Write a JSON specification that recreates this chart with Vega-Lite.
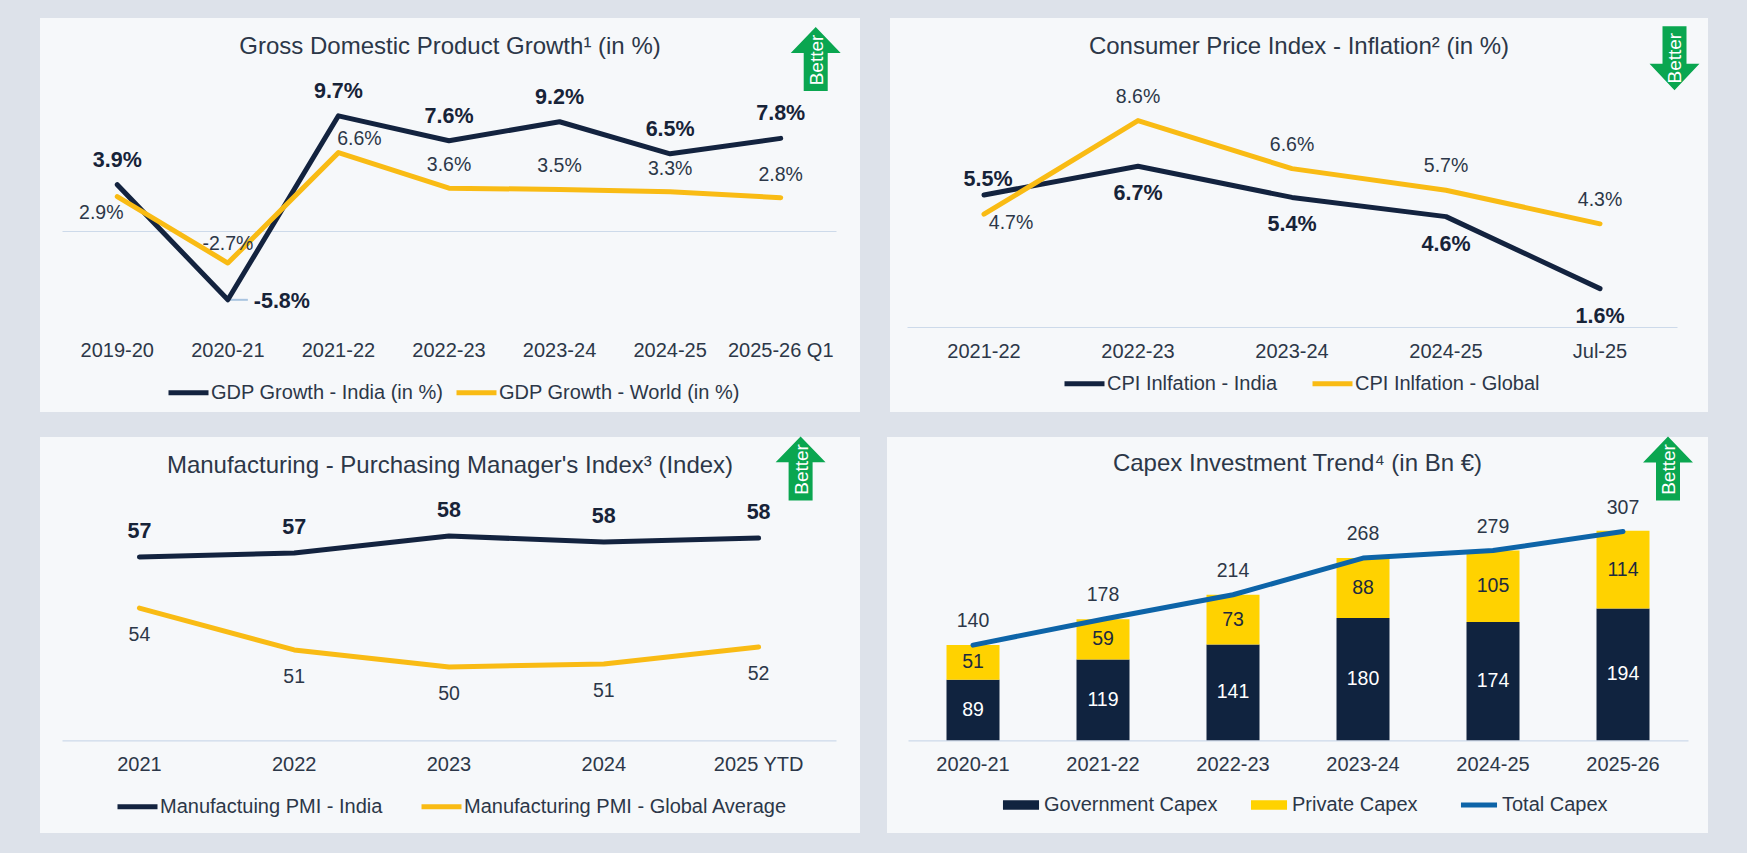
{
"$schema":"https://vega.github.io/schema/vega-lite/v6.json",
"background":"#dde2ea",
"padding":{"left":40,"top":18,"right":39,"bottom":21},
"config":{"view":{"fill":"#f6f8fa","stroke":null},
"title":{"font":"Liberation Sans","fontSize":24,"fontWeight":"normal","color":"#2c3748","anchor":"middle","baseline":"alphabetic"},
"axis":{"labelFont":"Liberation Sans","labelFontSize":20,"labelColor":"#2c3748","domainColor":"#cddaea","domainWidth":1.2,"ticks":false,"grid":false,"title":null,"labelAngle":0},
"text":{"font":"Liberation Sans","baseline":"middle","align":"center"},
"legend":{"labelFont":"Liberation Sans","labelFontSize":20,"labelColor":"#2c3748","title":null,"orient":"none","direction":"horizontal","symbolType":"stroke","symbolSize":1600,"symbolStrokeWidth":5,"labelOffset":0,"padding":0,"labelLimit":500}},
"resolve":{"scale":{"color":"independent"},"legend":{"color":"independent"}},
"vconcat":[
{"resolve":{"scale":{"color":"independent"},"legend":{"color":"independent"}},"hconcat":[
{"width":820,"height":394,"title":{"text":"Gross Domestic Product Growth¹ (in %)","offset":-40.5},
"data":{"values":[
{"year":"2019-20","series":"GDP Growth - India (in %)","value":3.9},{"year":"2020-21","series":"GDP Growth - India (in %)","value":-5.8},{"year":"2021-22","series":"GDP Growth - India (in %)","value":9.7},{"year":"2022-23","series":"GDP Growth - India (in %)","value":7.6},{"year":"2023-24","series":"GDP Growth - India (in %)","value":9.2},{"year":"2024-25","series":"GDP Growth - India (in %)","value":6.5},{"year":"2025-26 Q1","series":"GDP Growth - India (in %)","value":7.8},
{"year":"2019-20","series":"GDP Growth - World (in %)","value":2.9},{"year":"2020-21","series":"GDP Growth - World (in %)","value":-2.7},{"year":"2021-22","series":"GDP Growth - World (in %)","value":6.6},{"year":"2022-23","series":"GDP Growth - World (in %)","value":3.6},{"year":"2023-24","series":"GDP Growth - World (in %)","value":3.5},{"year":"2024-25","series":"GDP Growth - World (in %)","value":3.3},{"year":"2025-26 Q1","series":"GDP Growth - World (in %)","value":2.8}]},
"transform":[{"calculate":"datum.value+'%'","as":"label"}],
"encoding":{"x":{"field":"year","type":"nominal","sort":null,"scale":{"type":"band","domain":["2019-20","2020-21","2021-22","2022-23","2023-24","2024-25","2025-26 Q1"],"range":[22,796],"padding":0},"axis":{"offset":-181,"labelPadding":109}},
"y":{"field":"value","type":"quantitative","scale":{"domain":[-15.25,17.94],"nice":false,"zero":false},"axis":null}},
"layer":[
{"mark":{"type":"rule","color":"#a9c4e0","strokeWidth":2,"x2Offset":20},"transform":[{"filter":"datum.value===-5.8"}],"encoding":{"x2":{"field":"year"}}},
{"mark":{"type":"line","strokeWidth":5,"strokeCap":"round","strokeJoin":"round"},"encoding":{"color":{"field":"series","type":"nominal","scale":{"domain":["GDP Growth - India (in %)","GDP Growth - World (in %)"],"range":["#13233f","#f9bb14"]},"legend":{"legendX":126,"legendY":352,"columnPadding":2}}}},
{"mark":{"type":"text","fontWeight":"bold","fontSize":21.5,"color":"#172338","yOffset":-24},"transform":[{"filter":"datum.series==='GDP Growth - India (in %)' && datum.value>0"}],"encoding":{"text":{"field":"label"}}},
{"mark":{"type":"text","fontWeight":"bold","fontSize":21.5,"color":"#172338","xOffset":54,"yOffset":2},"transform":[{"filter":"datum.value===-5.8"}],"encoding":{"text":{"field":"label"}}},
{"mark":{"type":"text","fontSize":19.5,"color":"#2c3748","yOffset":-23},"transform":[{"filter":"datum.series==='GDP Growth - World (in %)' && datum.value>3 && datum.value<6"}],"encoding":{"text":{"field":"label"}}},
{"mark":{"type":"text","fontSize":19.5,"color":"#2c3748","yOffset":-23},"transform":[{"filter":"datum.value===2.8"}],"encoding":{"text":{"field":"label"}}},
{"mark":{"type":"text","fontSize":19.5,"color":"#2c3748","xOffset":-16,"yOffset":16},"transform":[{"filter":"datum.value===2.9"}],"encoding":{"text":{"field":"label"}}},
{"mark":{"type":"text","fontSize":19.5,"color":"#2c3748","yOffset":-19},"transform":[{"filter":"datum.value===-2.7"}],"encoding":{"text":{"field":"label"}}},
{"mark":{"type":"text","fontSize":19.5,"color":"#2c3748","xOffset":21,"yOffset":-14},"transform":[{"filter":"datum.value===6.6"}],"encoding":{"text":{"field":"label"}}},
{"data":{"values":[{"year":"2025-26 Q1","value":14.49,"arrow":"Better"}]},"mark":{"type":"point","filled":true,"opacity":1,"color":"#0aa650","size":4096,"xOffset":35,"shape":"M0,-1L0.78,-0.19L0.375,-0.19L0.375,1L-0.375,1L-0.375,-0.19L-0.78,-0.19Z"}},
{"data":{"values":[{"year":"2025-26 Q1","value":14.49,"arrow":"Better"}]},"mark":{"type":"text","color":"#ffffff","fontSize":19,"angle":270,"xOffset":36,"yOffset":1},"encoding":{"text":{"field":"arrow"}}}
]},
{"width":818,"height":394,"title":{"text":"Consumer Price Index - Inflation² (in %)","offset":-40.5},
"data":{"values":[
{"year":"2021-22","series":"CPI Inlfation - India","value":5.5},{"year":"2022-23","series":"CPI Inlfation - India","value":6.7},{"year":"2023-24","series":"CPI Inlfation - India","value":5.4},{"year":"2024-25","series":"CPI Inlfation - India","value":4.6},{"year":"Jul-25","series":"CPI Inlfation - India","value":1.6},
{"year":"2021-22","series":"CPI Inlfation - Global","value":4.7},{"year":"2022-23","series":"CPI Inlfation - Global","value":8.6},{"year":"2023-24","series":"CPI Inlfation - Global","value":6.6},{"year":"2024-25","series":"CPI Inlfation - Global","value":5.7},{"year":"Jul-25","series":"CPI Inlfation - Global","value":4.3}]},
"transform":[{"calculate":"datum.value+'%'","as":"label"}],
"encoding":{"x":{"field":"year","type":"nominal","sort":null,"scale":{"type":"band","domain":["2021-22","2022-23","2023-24","2024-25","Jul-25"],"range":[17,787],"padding":0},"axis":{"offset":-85,"labelPadding":14}},
"y":{"field":"value","type":"quantitative","scale":{"domain":[-3.54,12.875],"nice":false,"zero":false},"axis":null}},
"layer":[
{"mark":{"type":"line","strokeWidth":5,"strokeCap":"round","strokeJoin":"round"},"encoding":{"color":{"field":"series","type":"nominal","scale":{"domain":["CPI Inlfation - India","CPI Inlfation - Global"],"range":["#13233f","#f9bb14"]},"legend":{"legendX":172,"legendY":343,"columnPadding":24}}}},
{"mark":{"type":"text","fontWeight":"bold","fontSize":21.5,"color":"#172338","yOffset":28},"transform":[{"filter":"datum.series==='CPI Inlfation - India' && datum.value!==5.5"}],"encoding":{"text":{"field":"label"}}},
{"mark":{"type":"text","fontWeight":"bold","fontSize":21.5,"color":"#172338","xOffset":4,"yOffset":-15},"transform":[{"filter":"datum.value===5.5"}],"encoding":{"text":{"field":"label"}}},
{"mark":{"type":"text","fontSize":19.5,"color":"#2c3748","yOffset":-24},"transform":[{"filter":"datum.series==='CPI Inlfation - Global' && datum.value!==4.7"}],"encoding":{"text":{"field":"label"}}},
{"mark":{"type":"text","fontSize":19.5,"color":"#2c3748","xOffset":27,"yOffset":9},"transform":[{"filter":"datum.value===4.7"}],"encoding":{"text":{"field":"label"}}},
{"data":{"values":[{"year":"Jul-25","value":11.2,"arrow":"Better"}]},"mark":{"type":"point","filled":true,"opacity":1,"color":"#0aa650","size":4096,"xOffset":74.5,"shape":"M0,1L0.78,0.17L0.375,0.17L0.375,-1L-0.375,-1L-0.375,0.17L-0.78,0.17Z"}},
{"data":{"values":[{"year":"Jul-25","value":11.2,"arrow":"Better"}]},"mark":{"type":"text","color":"#ffffff","fontSize":19,"angle":270,"xOffset":74.5,"yOffset":0},"encoding":{"text":{"field":"arrow"}}}
]}
],"spacing":30},
{"resolve":{"scale":{"color":"independent"},"legend":{"color":"independent"}},"hconcat":[
{"width":820,"height":396,"title":{"text":"Manufacturing - Purchasing Manager's Index³ (Index)","offset":-42},
"data":{"values":[
{"year":"2021","series":"Manufactuing PMI - India","value":56.92},{"year":"2022","series":"Manufactuing PMI - India","value":57.16},{"year":"2023","series":"Manufactuing PMI - India","value":58.16},{"year":"2024","series":"Manufactuing PMI - India","value":57.81},{"year":"2025 YTD","series":"Manufactuing PMI - India","value":58.04},
{"year":"2021","series":"Manufacturing PMI - Global Average","value":53.9},{"year":"2022","series":"Manufacturing PMI - Global Average","value":51.42},{"year":"2023","series":"Manufacturing PMI - Global Average","value":50.41},{"year":"2024","series":"Manufacturing PMI - Global Average","value":50.59},{"year":"2025 YTD","series":"Manufacturing PMI - Global Average","value":51.59}]},
"encoding":{"x":{"field":"year","type":"nominal","sort":null,"scale":{"type":"band","domain":["2021","2022","2023","2024","2025 YTD"],"range":[22,796],"padding":0},"axis":{"offset":-92.7,"labelPadding":14}},
"y":{"field":"value","type":"quantitative","scale":{"domain":[40.59,64.02],"nice":false,"zero":false},"axis":null}},
"layer":[
{"mark":{"type":"line","strokeWidth":5,"strokeCap":"round","strokeJoin":"round"},"encoding":{"color":{"field":"series","type":"nominal","scale":{"domain":["Manufactuing PMI - India","Manufacturing PMI - Global Average"],"range":["#13233f","#f9bb14"]},"legend":{"legendX":75,"legendY":347,"columnPadding":28}}}},
{"mark":{"type":"text","fontWeight":"bold","fontSize":21.5,"color":"#172338","yOffset":-25},"transform":[{"filter":"datum.series==='Manufactuing PMI - India'"}],"encoding":{"text":{"field":"value","format":".0f"}}},
{"mark":{"type":"text","fontSize":19.5,"color":"#2c3748","yOffset":27},"transform":[{"filter":"datum.series==='Manufacturing PMI - Global Average'"}],"encoding":{"text":{"field":"value","format":".0f"}}},
{"data":{"values":[{"year":"2025 YTD","value":62.16,"arrow":"Better"}]},"mark":{"type":"point","filled":true,"opacity":1,"color":"#0aa650","size":4096,"xOffset":42,"shape":"M0,-1L0.78,-0.19L0.375,-0.19L0.375,1L-0.375,1L-0.375,-0.19L-0.78,-0.19Z"}},
{"data":{"values":[{"year":"2025 YTD","value":62.16,"arrow":"Better"}]},"mark":{"type":"text","color":"#ffffff","fontSize":19,"angle":270,"xOffset":43,"yOffset":1},"encoding":{"text":{"field":"arrow"}}}
]},
{"width":821,"height":396,"title":{"text":"Capex Investment Trend⁴ (in Bn €)","offset":-39.5},
"data":{"values":[
{"year":"2020-21","series":"Government Capex","value":89},{"year":"2021-22","series":"Government Capex","value":119},{"year":"2022-23","series":"Government Capex","value":141},{"year":"2023-24","series":"Government Capex","value":180},{"year":"2024-25","series":"Government Capex","value":174},{"year":"2025-26","series":"Government Capex","value":194},
{"year":"2020-21","series":"Private Capex","value":51},{"year":"2021-22","series":"Private Capex","value":59},{"year":"2022-23","series":"Private Capex","value":73},{"year":"2023-24","series":"Private Capex","value":88},{"year":"2024-25","series":"Private Capex","value":105},{"year":"2025-26","series":"Private Capex","value":114},
{"year":"2020-21","series":"Total Capex","value":140},{"year":"2021-22","series":"Total Capex","value":178},{"year":"2022-23","series":"Total Capex","value":214},{"year":"2023-24","series":"Total Capex","value":268},{"year":"2024-25","series":"Total Capex","value":279},{"year":"2025-26","series":"Total Capex","value":307}]},
"encoding":{"x":{"field":"year","type":"nominal","sort":null,"scale":{"type":"band","domain":["2020-21","2021-22","2022-23","2023-24","2024-25","2025-26"],"range":[21,801],"padding":0},"axis":{"offset":-92.7,"labelPadding":14}},
"y":{"field":"value","type":"quantitative","scale":{"domain":[-136.3,446],"nice":false,"zero":false},"axis":null}},
"layer":[
{"transform":[{"filter":"datum.series!=='Total Capex'"}],"mark":{"type":"bar","size":53},"encoding":{"y":{"field":"value","type":"quantitative","stack":"zero"},"order":{"field":"series","sort":"ascending"},"color":{"field":"series","type":"nominal","scale":{"domain":["Government Capex","Private Capex","Total Capex"],"range":["#10233f","#ffd200","#0d64a8"]},"legend":{"legendX":124,"legendY":358,"columnPadding":32,"symbolSize":1300,"labelOffset":13,"encode":{"symbols":{"update":{"shape":{"signal":"datum.value==='Total Capex'?'stroke':'M-1,-0.26H1V0.26H-1Z'"},"fill":{"signal":"datum.value==='Government Capex'?'#10233f':datum.value==='Private Capex'?'#ffd200':'transparent'"},"stroke":{"signal":"datum.value==='Total Capex'?'#0d64a8':'transparent'"},"strokeWidth":{"signal":"datum.value==='Total Capex'?5:0"},"opacity":{"value":1}}}}}}}},
{"transform":[{"filter":"datum.series==='Total Capex'"}],"mark":{"type":"line","strokeWidth":5,"strokeCap":"round","strokeJoin":"round"},"encoding":{"color":{"field":"series","type":"nominal"}}},
{"transform":[{"filter":"datum.series!=='Total Capex'"}],"mark":{"type":"text","fontSize":19.5},"encoding":{"y":{"field":"value","type":"quantitative","stack":"zero","bandPosition":0.5},"order":{"field":"series","sort":"ascending"},"text":{"field":"value"},"color":{"condition":{"test":"datum.series==='Government Capex'","value":"#ffffff"},"value":"#1c2a3f"},"detail":{"field":"series"}}},
{"transform":[{"filter":"datum.series==='Total Capex'"}],"mark":{"type":"text","fontSize":19.5,"color":"#2c3748","yOffset":-24},"encoding":{"text":{"field":"value"}}},
{"data":{"values":[{"year":"2025-26","value":399.7,"arrow":"Better"}]},"mark":{"type":"point","filled":true,"opacity":1,"color":"#0aa650","size":4096,"xOffset":45,"shape":"M0,-1L0.78,-0.19L0.375,-0.19L0.375,1L-0.375,1L-0.375,-0.19L-0.78,-0.19Z"}},
{"data":{"values":[{"year":"2025-26","value":399.7,"arrow":"Better"}]},"mark":{"type":"text","color":"#ffffff","fontSize":19,"angle":270,"xOffset":46,"yOffset":1},"encoding":{"text":{"field":"arrow"}}}
]}
],"spacing":27}
],"spacing":24}
